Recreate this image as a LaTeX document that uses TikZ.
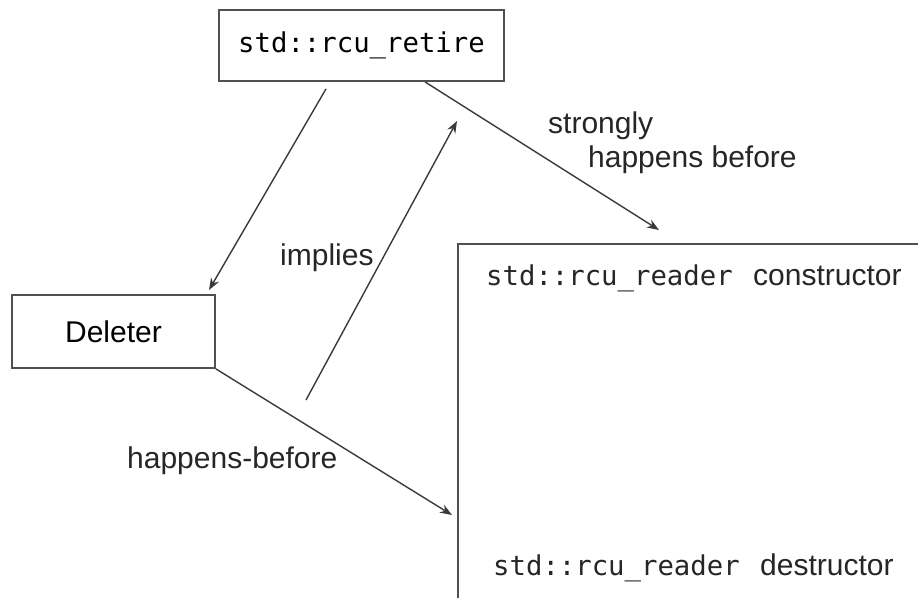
\documentclass[tikz,border=0pt]{standalone}
\usepackage{fontspec}
\setmainfont{Liberation Sans}
\newfontfamily\monofont{DejaVu Sans Mono}
\usepackage{tikz}
\usetikzlibrary{arrows.meta}
\definecolor{linegray}{HTML}{3A3A3A}
\definecolor{boxgray}{HTML}{505050}
\tikzstyle{box} = [draw=boxgray, line width=1.8pt, rectangle, inner sep=0pt]
\tikzstyle{connector} = [draw=linegray, line width=1.4pt, -{Stealth[length=12pt,width=9pt]}]
\tikzstyle{label} = [inner sep=0pt, anchor=base west, text=black!85]
\newcommand{\code}[1]{{\monofont\fontsize{27.3}{32}\selectfont #1}}

\begin{document}
\begin{tikzpicture}[x=1pt, y=-1pt, every node/.style={font=\fontsize{30}{36}\selectfont}]
                \useasboundingbox (0,0) rectangle (918,597);
                \clip (0,0) rectangle (918,597);

                \node (retire) [box, minimum width=285, minimum height=71] at (361.5,45.5) {\code{std::rcu\_retire}};
                \node (deleter) [box, minimum width=203, minimum height=73] at (113.5,331.5) {Deleter};
                \node (reader) [box, anchor=north west, minimum width=520, minimum height=420] at (457,243) {};

                \node (ctor) [label] at (486,285) {\code{std::rcu\_reader~}\hspace{4pt}constructor};
                \node (dtor) [label] at (493,575) {\code{std::rcu\_reader~}\hspace{4pt}destructor};

                % arrow ends
                \coordinate (deleterin) at (209,290);
                \coordinate (ctorin) at (659,230);
                \coordinate (dtorin) at (452,515);
                \coordinate (impfrom) at (306,400);
                \coordinate (impto) at (457,121);

                \draw [connector] ([xshift=-35.5pt, yshift=-7pt]retire.south) -- (deleterin);
                \draw [connector] ([xshift=63.5pt]retire.south) -- (ctorin);
                \draw [connector] (deleter.south east) -- (dtorin);
                \draw [connector] (impfrom) -- (impto);

                \node (strong1) [label] at (548,133) {strongly};
                \node (strong2) [label] at (588,167) {happens before};
                \node (implies) [label] at (280,265) {implies};
                \node (hb) [label] at (127,468) {happens-before};
            \end{tikzpicture}
\end{document}
